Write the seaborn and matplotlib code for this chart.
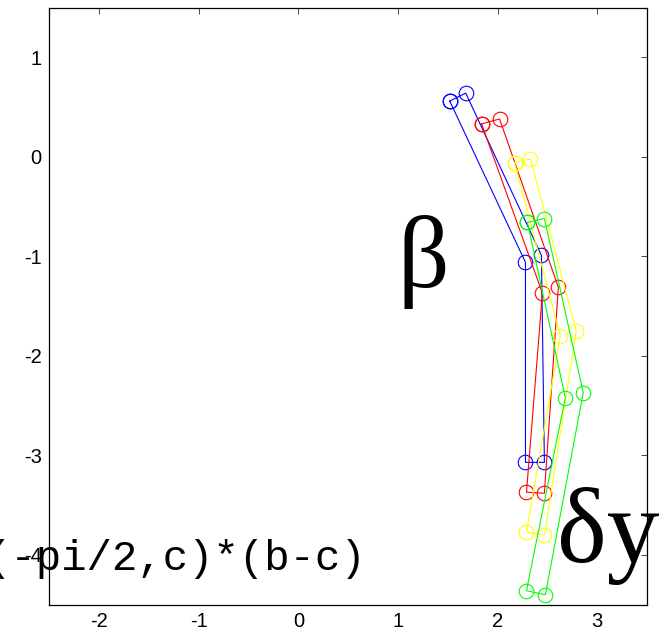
import numpy as np
import pandas as pd
import matplotlib
matplotlib.use("Agg")
import matplotlib.pyplot as plt
import seaborn as sns

# ---- data (vertex order: top-left, mid-left, bottom-left, bottom-right, mid-right, top-right)
series_names = ["blue", "red", "yellow", "green"]
series_colors = ["#0000ff", "#ff0000", "#ffff00", "#00ff00"]

blue_x = [1.52, 2.28, 2.28, 2.47, 2.44, 1.68]
blue_y = [0.56, -1.06, -3.07, -3.07, -0.99, 0.64]

red_x = [1.84, 2.45, 2.29, 2.47, 2.61, 2.02]
red_y = [0.33, -1.37, -3.37, -3.38, -1.31, 0.38]

yellow_x = [2.17, 2.63, 2.29, 2.47, 2.79, 2.33]
yellow_y = [-0.06, -1.80, -3.77, -3.80, -1.75, -0.02]

green_x = [2.30, 2.68, 2.29, 2.48, 2.86, 2.47]
green_y = [-0.66, -2.42, -4.36, -4.40, -2.37, -0.62]

xticks = [-2, -1, 0, 1, 2, 3]
yticks = [-4, -3, -2, -1, 0, 1]

label_beta = "β"
label_dy = "δy"
label_expr = "(-pi/2,c)*(b-c)"

all_x = [blue_x, red_x, yellow_x, green_x]
all_y = [blue_y, red_y, yellow_y, green_y]

rows = []
for name, xs, ys in zip(series_names, all_x, all_y):
    loop_x = list(xs) + [xs[0]]
    loop_y = list(ys) + [ys[0]]
    for i, (a, b) in enumerate(zip(loop_x, loop_y)):
        rows.append({"series": name, "order": i, "x": a, "y": b})
df = pd.DataFrame(rows)

sns.set_theme(style="white")
plt.rcParams["font.family"] = ["Liberation Sans", "DejaVu Sans"]

fig = plt.figure(figsize=(6.66, 6.37), dpi=100)
ax = fig.add_axes([49.3 / 666, (637 - 604.7) / 637, (647 - 49.3) / 666, (604.7 - 7.5) / 637])

for name, col in zip(series_names, series_colors):
    sub = df[df["series"] == name]
    sns.lineplot(data=sub, x="x", y="y", sort=False, estimator=None, ax=ax,
                 color=col, linewidth=0.8, marker="o", markersize=10.5,
                 markerfacecolor="none", markeredgecolor=col, markeredgewidth=0.8,
                 legend=False)

ax.set_xlim(-2.5, 3.5)
ax.set_ylim(-4.5, 1.5)
ax.set_xticks(xticks)
ax.set_yticks(yticks)
ax.set_xticklabels([str(t) for t in xticks])
ax.set_yticklabels([str(t) for t in yticks])
ax.set_xlabel("")
ax.set_ylabel("")
ax.tick_params(direction="in", length=4.3, width=0.5, color="black",
               top=True, right=True, labelsize=14.5, pad=5.5, labelcolor="black")
for s in ax.spines.values():
    s.set_visible(True)
    s.set_color("black")
    s.set_linewidth(0.9)
ax.set_facecolor("white")
ax.grid(False)

ax.text(1.0, -1.31, label_beta, family=["Liberation Serif", "DejaVu Serif"],
        fontsize=73, ha="left", va="baseline", color="black")
ax.text(2.6, -4.07, label_dy, family=["Liberation Serif", "DejaVu Serif"],
        fontsize=76, ha="left", va="baseline", color="black")
ax.text(-3.14, -4.15, label_expr, family=["Liberation Mono", "DejaVu Sans Mono"],
        fontsize=30.5, ha="left", va="baseline", color="black")

fig.savefig("out.png", dpi=100, facecolor="white")
